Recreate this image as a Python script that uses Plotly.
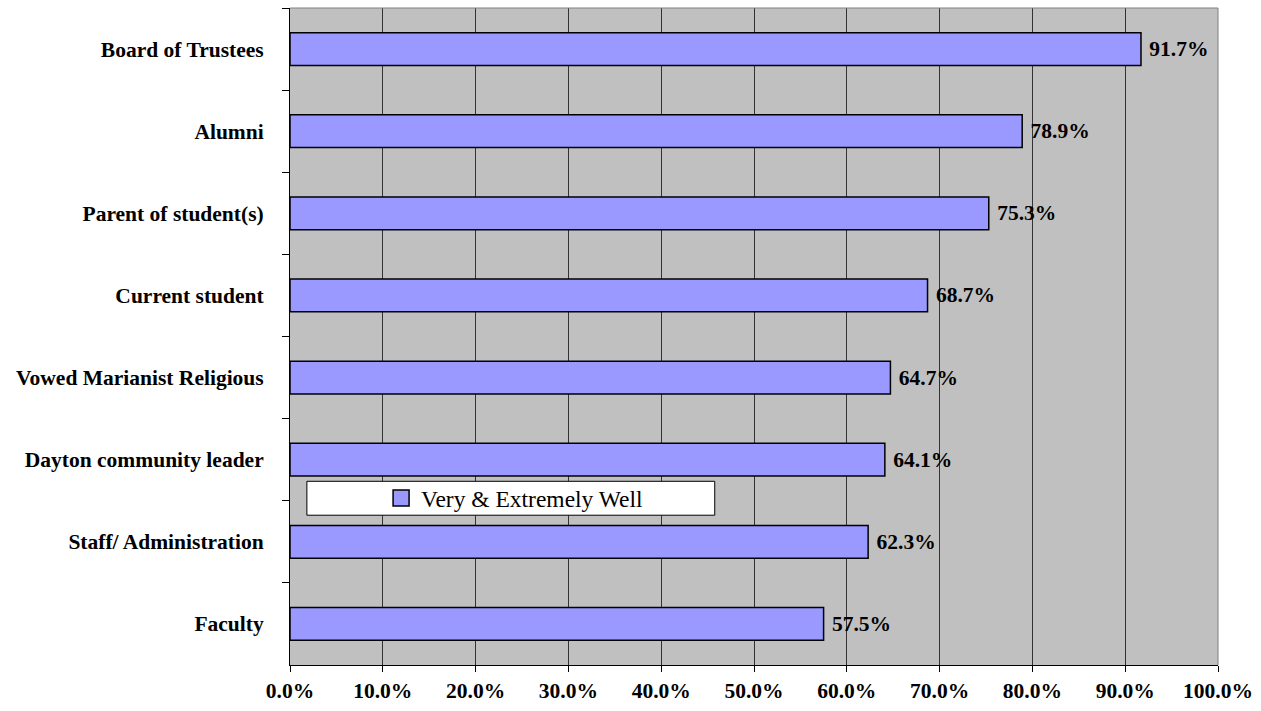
import plotly.graph_objects as go

# Share answering "Very & Extremely Well", by respondent group (top to bottom)
groups = [
    "Board of Trustees",
    "Alumni",
    "Parent of student(s)",
    "Current student",
    "Vowed Marianist Religious",
    "Dayton community leader",
    "Staff/ Administration",
    "Faculty",
]
very_extremely_well = [0.917, 0.789, 0.753, 0.687, 0.647, 0.641, 0.623, 0.575]
x_ticks = [i / 10 for i in range(11)]
series_name = "Very & Extremely Well"

SERIF = "Liberation Serif, Times New Roman, serif"
BAR_FILL = "#9999FF"
LABEL_SIZE = 21.5

fig = go.Figure()
fig.add_trace(go.Bar(
    x=very_extremely_well,
    y=groups,
    orientation="h",
    name=series_name,
    marker=dict(color=BAR_FILL, line=dict(color="#000000", width=1.5)),
    texttemplate=" %{x:.1%}",
    textposition="outside",
    textfont=dict(family=SERIF, size=LABEL_SIZE, color="#000000", weight="bold"),
    cliponaxis=False,
    showlegend=False,
))

# Legend entry with a larger square swatch
fig.add_trace(go.Scatter(
    x=[None], y=[None], mode="markers", name=series_name,
    marker=dict(symbol="square", size=16, color=BAR_FILL,
                line=dict(color="#000000", width=1.5)),
    showlegend=True,
))

# White legend panel inside the plot area
fig.add_shape(
    type="rect", xref="paper", yref="paper",
    x0=0.0182, x1=0.4577, y0=0.228, y1=0.2796,
    fillcolor="#FFFFFF", line=dict(color="#000000", width=1),
    layer="above",
)

fig.update_layout(
    width=1261, height=711,
    margin=dict(l=290, r=38, t=8, b=45),
    paper_bgcolor="#FFFFFF",
    plot_bgcolor="#C0C0C0",
    bargap=0.6,
    font=dict(family=SERIF, color="#000000"),
    legend=dict(
        x=0.242, y=0.254, xanchor="center", yanchor="middle",
        bgcolor="rgba(0,0,0,0)", borderwidth=0,
        itemsizing="trace",
        font=dict(family=SERIF, size=23.5, color="#000000"),
    ),
    xaxis=dict(
        range=[0, 1], tickvals=x_ticks, tickformat=".1%",
        showgrid=True, gridcolor="#333333", gridwidth=1,
        ticks="outside", ticklen=6, tickcolor="#000000",
        showline=True, linecolor="#000000", linewidth=1,
        mirror=False, zeroline=False,
        tickfont=dict(family=SERIF, size=LABEL_SIZE, color="#000000", weight="bold"),
    ),
    yaxis=dict(
        autorange="reversed",
        showgrid=False,
        ticks="outside", ticklen=7, tickcolor="#000000", tickson="boundaries",
        showline=True, linecolor="#000000", linewidth=1,
        ticklabelstandoff=21,
        tickfont=dict(family=SERIF, size=LABEL_SIZE, color="#000000", weight="bold"),
    ),
)

# Grey frame on the top and right edges of the plot area
fig.add_shape(type="line", xref="paper", yref="paper", x0=0, x1=1, y0=1, y1=1,
              line=dict(color="#808080", width=1), layer="above")
fig.add_shape(type="line", xref="paper", yref="paper", x0=1, x1=1, y0=0, y1=1,
              line=dict(color="#808080", width=1), layer="above")

fig.write_html("out.html")
